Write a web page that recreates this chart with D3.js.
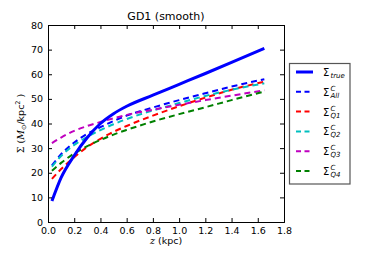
<!DOCTYPE html>
<html>
<head>
<meta charset="utf-8">
<script src="https://cdnjs.cloudflare.com/ajax/libs/d3/7.8.5/d3.min.js"></script>
<style>
body { margin: 0; background: #fff; }
text { font-family: "DejaVu Sans", sans-serif; }
</style>
</head>
<body>
<svg></svg>
<script>
// sample heights (kpc)
var zVals = [0.03, 0.1, 0.2, 0.3, 0.4, 0.5, 0.6, 0.8, 1.0, 1.2, 1.4, 1.65];
var sigTrue = [8.5, 18, 27, 34.3, 40, 44, 47, 51.5, 55.9, 60.3, 64.8, 70.5];
var sigAll = [23, 27.5, 32.3, 35.8, 38.5, 41, 43.2, 46.5, 49.5, 52.3, 55, 58];
var sigQ1 = [17.5, 21.5, 26.3, 30.5, 33.8, 36.6, 39, 43.2, 47, 50.5, 53.7, 57];
var sigQ2 = [22.5, 26.8, 31.3, 34.6, 37.3, 39.7, 41.8, 45.3, 48.3, 51.2, 53.7, 56.3];
var sigQ3 = [32, 34.3, 37, 39, 40.6, 42.1, 43.5, 45.6, 47.6, 49.5, 51.3, 53.5];
var sigQ4 = [20.8, 24, 27.8, 30.8, 33.3, 35.5, 37.4, 40.8, 43.8, 46.6, 49.5, 53];
var xTicks = [0.0, 0.2, 0.4, 0.6, 0.8, 1.0, 1.2, 1.4, 1.6, 1.8];
var yTicks = [0, 10, 20, 30, 40, 50, 60, 70, 80];

var series = [
    {vals: sigTrue, color: "#0000ff", dash: null, width: 3, sub: "true", sup: null},
    {vals: sigAll, color: "#0000ff", dash: "6,4", width: 2, sub: "All", sup: "C"},
    {vals: sigQ1, color: "#ff0000", dash: "6,4", width: 2, sub: "Q1", sup: "C"},
    {vals: sigQ2, color: "#00bfbf", dash: "6,4", width: 2, sub: "Q2", sup: "C"},
    {vals: sigQ3, color: "#bf00bf", dash: "6,4", width: 2, sub: "Q3", sup: "C"},
    {vals: sigQ4, color: "#008000", dash: "6,4", width: 2, sub: "Q4", sup: "C"}
];

var width = 382, height = 254;
var mLeft = 48, mRight = 284, mTop = 25, mBottom = 222;

var svg = d3.select("svg")
    .attr("width", width)
    .attr("height", height);

var x = d3.scaleLinear().domain([0, 1.8]).range([mLeft, mRight]);
var y = d3.scaleLinear().domain([0, 80]).range([mBottom, mTop]);

var line = d3.line()
    .x(d => x(d[0]))
    .y(d => y(d[1]))
    .curve(d3.curveMonotoneX);

var plot = svg.append("g");
plot.append("defs").append("clipPath").attr("id", "clip")
    .append("rect").attr("x", mLeft).attr("y", mTop)
    .attr("width", mRight - mLeft).attr("height", mBottom - mTop);

// dashed curves first, true curve on top
series.slice(1).concat([series[0]]).forEach(s => {
    plot.append("path")
        .datum(zVals.map((z, i) => [z, s.vals[i]]))
        .attr("d", line)
        .attr("fill", "none")
        .attr("stroke", s.color)
        .attr("stroke-width", s.width)
        .attr("stroke-dasharray", s.dash)
        .attr("clip-path", "url(#clip)");
});

// axes, ticks inward on all sides
function fmtX(d) { return d.toFixed(1); }
svg.append("g").attr("transform", "translate(0," + mBottom + ")")
    .call(d3.axisBottom(x).tickValues(xTicks).tickSize(-4).tickPadding(5).tickFormat(fmtX));
svg.append("g").attr("transform", "translate(0," + mTop + ")")
    .call(d3.axisTop(x).tickValues(xTicks).tickSize(-4).tickFormat(""));
svg.append("g").attr("transform", "translate(" + mLeft + ",0)")
    .call(d3.axisLeft(y).tickValues(yTicks).tickSize(-4).tickPadding(5));
svg.append("g").attr("transform", "translate(" + mRight + ",0)")
    .call(d3.axisRight(y).tickValues(yTicks).tickSize(-4).tickFormat(""));

svg.selectAll(".domain").attr("stroke", "#000").attr("stroke-width", 1);
svg.selectAll(".tick line").attr("stroke", "#000");
svg.selectAll(".tick text").attr("font-size", 9.5).attr("fill", "#000")
    .attr("font-family", "DejaVu Sans");

// title
svg.append("text")
    .attr("x", (mLeft + mRight) / 2).attr("y", 20)
    .attr("text-anchor", "middle")
    .attr("font-size", 11)
    .text("GD1 (smooth)");

// x label
var xl = svg.append("text")
    .attr("x", (mLeft + mRight) / 2).attr("y", 244)
    .attr("text-anchor", "middle")
    .attr("font-size", 9.5);
xl.append("tspan").attr("font-family", "DejaVu Serif").attr("font-style", "italic").text("z");
xl.append("tspan").text(" (kpc)");

// y label
var yl = svg.append("text")
    .attr("transform", "translate(24," + ((mTop + mBottom) / 2) + ") rotate(-90)")
    .attr("text-anchor", "middle")
    .attr("font-size", 9.5);
yl.append("tspan").attr("font-family", "DejaVu Serif").text("Σ (");
yl.append("tspan").attr("font-family", "DejaVu Serif").attr("font-style", "italic").text("M");
yl.append("tspan").attr("font-size", 6.5).attr("dy", 2).text("⊙");
yl.append("tspan").attr("dy", -2).text("/kpc");
yl.append("tspan").attr("font-size", 6.5).attr("dy", -4).text("2");
yl.append("tspan").attr("dy", 4).text(" )");

// legend
var lg = svg.append("g");
lg.append("rect")
    .attr("x", 289.5).attr("y", 63.5)
    .attr("width", 60.5).attr("height", 120.5)
    .attr("fill", "#fff")
    .attr("stroke", "#555")
    .attr("stroke-width", 1.2);

series.forEach((s, i) => {
    var ly = 72 + i * 19.8;
    lg.append("line")
        .attr("x1", 296).attr("x2", 313)
        .attr("y1", ly).attr("y2", ly)
        .attr("stroke", s.color)
        .attr("stroke-width", s.width)
        .attr("stroke-dasharray", s.dash ? "5,3.5" : null);
    var t = lg.append("text")
        .attr("font-family", "DejaVu Serif")
        .attr("font-size", 10);
    t.append("tspan").attr("x", 323).attr("y", ly + 4).text("Σ");
    if (s.sup) {
        t.append("tspan").attr("x", 330.5).attr("y", ly - 1)
            .attr("font-size", 7).attr("font-style", "italic").text(s.sup);
    }
    t.append("tspan").attr("x", 330.5).attr("y", ly + 6)
        .attr("font-size", 7).attr("font-style", "italic").text(s.sub);
});
</script>
</body>
</html>
